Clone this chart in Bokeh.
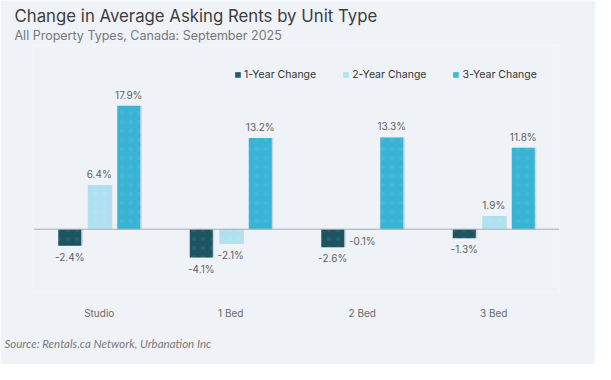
from bokeh.plotting import figure
from bokeh.models import FactorRange, Range1d, ColumnDataSource, Span, Title, Legend, LegendItem
from bokeh.transform import dodge
from bokeh.core.properties import value
from bokeh.embed import file_html
from bokeh.resources import INLINE

categories = ["Studio", "1 Bed", "2 Bed", "3 Bed"]
one_year = [-2.4, -4.1, -2.6, -1.3]
two_year = [6.4, -2.1, -0.1, 1.9]
three_year = [17.9, 13.2, 13.3, 11.8]
series_names = ["1-Year Change", "2-Year Change", "3-Year Change"]
colors = ["#1c5561", "#b0e1f0", "#3ab4d5"]

BG = "#eff3f8"
FONT = "Inter"

p = figure(width=595, height=364, x_range=FactorRange(*categories),
           y_range=Range1d(-9.17, 26.62), output_backend="svg", toolbar_location=None,
           min_border_left=33, min_border_right=36, min_border_top=45, min_border_bottom=72,
           background_fill_color=BG, border_fill_color=BG)
p.title.text = ""

p.add_layout(Title(text="All Property Types, Canada: September 2025", text_font=FONT,
                   text_font_size="12.5px", text_color="#777777", text_font_style="normal",
                   align="left", offset=-19, standoff=5), "above")
p.add_layout(Title(text="Change in Average Asking Rents by Unit Type", text_font=FONT,
                   text_font_size="16.8px", text_color="#3d3d3d", text_font_style="normal",
                   align="left", offset=-19, standoff=-5), "above")
p.add_layout(Title(text="Source: Rentals.ca Network, Urbanation Inc", text_font="Lato",
                   text_font_size="11.5px", text_color="#7a7a7a", text_font_style="italic",
                   align="left", offset=-29, standoff=27), "below")

p.add_layout(Span(location=0, dimension="width", line_color="#a9adb3", line_width=1))

offsets = [-0.2243, 0.0, 0.2243]
series = [one_year, two_year, three_year]
items = []
for name, vals, col, off in zip(series_names, series, colors, offsets):
    src = ColumnDataSource(dict(
        cat=categories, val=vals,
        lbl=[f"{v:.1f}%" for v in vals],
        yoff=[-5 if v >= 0 else 5 for v in vals],
        base=["bottom" if v >= 0 else "top" for v in vals],
    ))
    p.vbar(x=dodge("cat", off + 0.012, range=p.x_range), top="val", bottom=0, width=0.175,
           source=src, fill_color="#9aa0a8", fill_alpha=0.35, line_color=None)
    r = p.vbar(x=dodge("cat", off, range=p.x_range), top="val", bottom=0, width=0.175,
               source=src, fill_color=col, line_color=None,
               hatch_pattern="dot", hatch_color="white", hatch_alpha=0.06, hatch_scale=9)
    p.text(x=dodge("cat", off, range=p.x_range), y="val", text="lbl", source=src,
           y_offset="yoff", text_baseline="base", text_align="center",
           text_font=value(FONT), text_font_size="10px", text_color="#5f5f5f")
    items.append(LegendItem(label=name, renderers=[r]))

legend = Legend(items=items, orientation="horizontal", location=(201, 211),
                glyph_width=7, glyph_height=7, label_standoff=3, spacing=26,
                label_text_font=FONT, label_text_font_size="10.5px", label_text_color="#333333",
                label_height=14, padding=0, margin=0, border_line_color=None,
                background_fill_alpha=0)
p.add_layout(legend)

p.yaxis.visible = False
p.xgrid.grid_line_color = None
p.ygrid.grid_line_color = None
p.outline_line_color = None
p.xaxis.axis_line_color = None
p.xaxis.major_tick_line_color = None
p.xaxis.minor_tick_line_color = None
p.xaxis.major_label_text_font = FONT
p.xaxis.major_label_text_font_size = "10px"
p.xaxis.major_label_text_color = "#6a6a6a"
p.xaxis.major_label_standoff = 8

open("out.html", "w").write(file_html(p, INLINE))
